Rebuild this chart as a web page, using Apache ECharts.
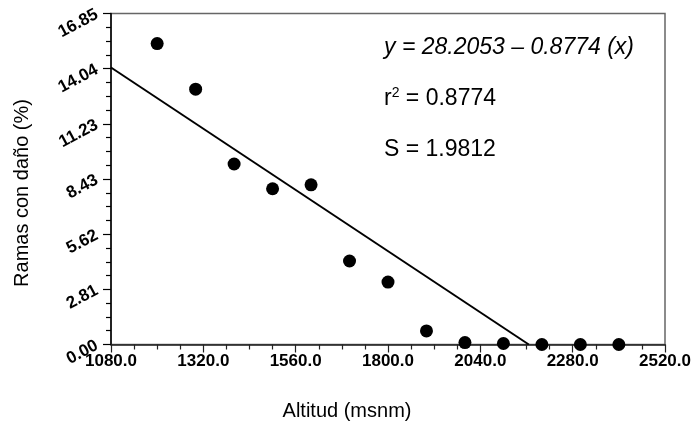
<!DOCTYPE html>
<html>
<head>
<meta charset="utf-8">
<script src="https://cdn.jsdelivr.net/npm/echarts@6/dist/echarts.min.js"></script>
<style>html,body{margin:0;padding:0;background:#fff}#c{width:694px;height:423px}</style>
</head>
<body>
<div id="c"></div>
<script>
var altitud = [1200, 1300, 1400, 1500, 1600, 1700, 1800, 1900, 2000, 2100, 2200, 2300, 2400];
var ramas = [15.32, 13.0, 9.19, 7.93, 8.13, 4.25, 3.18, 0.69, 0.10, 0.05, 0.0, 0.0, 0.0];
var ajusteX = [1080, 2166];
var ajusteY = [14.1, 0];
var xTicks = ['1080.0', '1320.0', '1560.0', '1800.0', '2040.0', '2280.0', '2520.0'];
var yTicks = ['0.00', '2.81', '5.62', '8.43', '11.23', '14.04', '16.85'];
var textos = ['y = 28.2053 \u2013 0.8774 (x)', 'r{sup|2} = 0.8774', 'S = 1.9812'];

var chart = echarts.init(document.getElementById('c'), null, {renderer: 'canvas'});
var yMax = 16.85, yInt = 16.85 / 6;
var font = 'Liberation Sans, Arial, Helvetica, sans-serif';
var tickFont = '"Liberation Sans Narrow", "Arial Narrow", "Liberation Sans", sans-serif';
chart.setOption({
  animation: false,
  grid: {left: 111, right: 23, top: 13.5, bottom: 78.5, show: true, borderColor: '#666', borderWidth: 1.5, backgroundColor: 'transparent'},
  xAxis: {
    type: 'value', min: 1080, max: 2520, interval: 240,
    axisLine: {lineStyle: {color: '#222', width: 1.5}},
    axisTick: {length: 8, lineStyle: {color: '#222', width: 1.2}},
    minorTick: {show: true, splitNumber: 4, length: 5, lineStyle: {color: '#222', width: 1.2}},
    splitLine: {show: false},
    axisLabel: {margin: 8, color: '#000', fontWeight: 'bold', fontSize: 17, fontFamily: tickFont,
      formatter: function (v) { return xTicks[Math.round((v - 1080) / 240)]; }}
  },
  yAxis: {
    type: 'value', min: 0, max: yMax, interval: yInt,
    axisLine: {show: true, lineStyle: {color: '#000', width: 1.5}},
    axisTick: {show: true, length: 8, lineStyle: {color: '#000', width: 1.2}},
    minorTick: {show: true, splitNumber: 4, length: 5, lineStyle: {color: '#000', width: 1.2}},
    splitLine: {show: false},
    axisLabel: {margin: 14, rotate: 28, color: '#000', fontWeight: 'bold', fontSize: 17, fontFamily: tickFont,
      formatter: function (v) { return yTicks[Math.round(v / yInt)]; }}
  },
  series: [
    {type: 'line', data: ajusteX.map(function (x, i) { return [x, ajusteY[i]]; }),
      symbol: 'none', lineStyle: {color: '#000', width: 2}, z: 3},
    {type: 'scatter', data: altitud.map(function (x, i) { return [x, ramas[i]]; }),
      symbol: 'circle', symbolSize: 13, itemStyle: {color: '#000', opacity: 1}, clip: false, z: 4}
  ],
  graphic: [
    {type: 'text', left: 384, top: 36, style: {text: textos[0], font: 'italic 23px ' + font, fill: '#000'}},
    {type: 'text', left: 384, top: 86, style: {text: textos[1], font: '23px ' + font, fill: '#000',
      rich: {sup: {fontSize: 14, verticalAlign: 'top', padding: [0, 0, 11, 0], fontFamily: font}}}},
    {type: 'text', left: 384, top: 138, style: {text: textos[2], font: '23px ' + font, fill: '#000'}},
    {type: 'text', x: 347, y: 411, style: {text: 'Altitud (msnm)', font: '20px ' + font, fill: '#000', align: 'center', verticalAlign: 'middle'}},
    {type: 'text', x: 22, y: 193, rotation: Math.PI / 2, style: {text: 'Ramas con daño (%)', font: '20px ' + font, fill: '#000', align: 'center', verticalAlign: 'middle'}}
  ]
});
</script>
</body>
</html>
